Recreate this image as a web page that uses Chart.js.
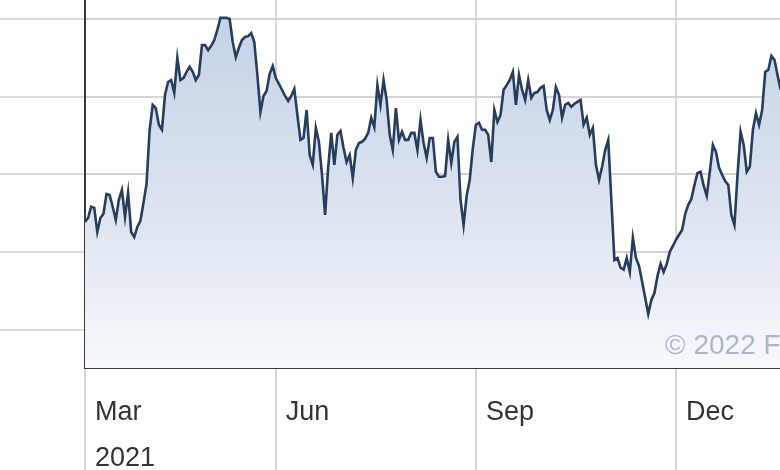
<!DOCTYPE html>
<html>
<head>
<meta charset="utf-8">
<script src="https://cdn.jsdelivr.net/npm/chart.js@4/dist/chart.umd.min.js"></script>
<style>
  html, body { margin: 0; padding: 0; background: #fff; }
  .chart-box { width: 780px; height: 470px; position: relative; }
</style>
</head>
<body>
<div class="chart-box"><canvas id="priceChart"></canvas></div>
<script>
/* ================= DATA ================= */
// one close per trading day, index 0 = 1 Mar 2021
const closes = [
  187.8, 188.8, 191.7, 191.4, 185.2, 188.8, 189.9, 195.0, 194.7, 191.7,
  188.3, 193.5, 196.0, 189.1, 195.3, 185.2, 183.9, 186.5, 188.1, 192.7,
  197.6, 211.5, 217.9, 217.1, 212.8, 211.5, 220.5, 223.8, 224.3, 221.0,
  230.0, 224.3, 224.8, 226.4, 227.7, 226.4, 224.3, 225.6, 233.3, 233.3,
  232.0, 233.1, 234.6, 237.2, 240.3, 240.3, 240.3, 240.0, 234.1, 230.2,
  232.6, 234.6, 235.4, 235.6, 236.4, 234.1, 225.6, 216.1, 220.2, 221.5,
  225.9, 227.9, 224.8, 223.3, 221.8, 220.2, 218.9, 220.2, 222.0, 215.3,
  208.9, 209.4, 216.6, 205.0, 202.5, 212.0, 208.4, 199.9, 189.6, 201.7,
  210.7, 202.5, 210.2, 211.2, 206.8, 203.2, 205.0, 199.1, 206.3, 208.1,
  208.4, 209.2, 210.7, 214.6, 212.2, 223.0, 217.9, 224.3, 219.2, 210.2,
  206.3, 217.1, 208.9, 211.0, 208.9, 208.9, 210.7, 210.7, 206.3, 214.0,
  208.1, 204.3, 209.4, 209.4, 200.7, 199.4, 199.4, 199.6, 208.9, 203.0,
  208.4, 209.7, 193.5, 187.0, 194.5, 198.6, 206.8, 212.8, 213.3, 211.5,
  211.5, 210.2, 203.2, 216.6, 213.5, 215.3, 221.8, 223.0, 224.3, 226.4,
  217.9, 225.6, 221.8, 219.2, 224.3, 219.7, 221.0, 221.2, 222.3, 222.8,
  216.6, 214.0, 216.6, 222.5, 220.5, 214.6, 217.9, 218.4, 217.4, 218.2,
  218.7, 219.2, 212.8, 214.6, 210.2, 212.0, 202.5, 198.6, 202.0, 206.3,
  208.9, 193.5, 178.0, 178.5, 176.0, 175.5, 178.5, 174.9, 183.7, 178.5,
  176.5, 172.4, 168.3, 164.1, 167.7, 169.5, 173.9, 177.0, 174.9, 177.0,
  180.1, 181.6, 183.2, 184.5, 185.7, 189.9, 192.2, 193.7, 197.3, 200.4,
  200.7, 197.1, 194.5, 200.7, 207.6, 205.8, 201.7, 199.9, 198.3, 197.3,
  189.6, 187.0, 199.9, 211.0, 207.6, 200.7, 202.0, 211.5, 215.8, 212.8,
  216.6, 226.4, 226.9, 230.5, 229.5, 225.6, 221.8
];

// month ticks (trading-day index where each month starts)
const monthTickIndex = [0, 62, 127, 192];
const monthTickLabels = [["Mar", "2021"], "Jun", "Sep", "Dec"];

const priceGridValues = [160, 180, 200, 220, 240];

const copyrightText = "\u00A9 2022 F";

/* ================= HELPERS ================= */
const points = closes.map((v, i) => ({ x: i, y: v }));

const fillGradient = (context) => {
    const { chart } = context;
    const area = chart.chartArea;
    if (!area) return "#dfe6f1";
    const g = chart.ctx.createLinearGradient(0, area.top, 0, area.bottom);
    g.addColorStop(0, "#c3d1e6");
    g.addColorStop(0.6, "#dee5f0");
    g.addColorStop(1, "#f7f9fc");
    return g;
};

const copyrightPlugin = {
    id: "copyright",
    afterDatasetsDraw(chart) {
        const { ctx, chartArea } = chart;
        ctx.save();
        ctx.font = "28px 'Liberation Sans', Arial, sans-serif";
        ctx.fillStyle = "#a9b7c9";
        ctx.textBaseline = "alphabetic";
        ctx.fillText(copyrightText, chartArea.right - 115, chartArea.bottom - 14);
        ctx.restore();
    }
};

/* ================= CHART ================= */
new Chart(document.getElementById("priceChart"), {
    type: "line",
    data: {
        datasets: [{
            data: points,
            borderColor: "#263d5e",
            borderWidth: 2.6,
            pointRadius: 0,
            tension: 0,
            fill: "start",
            backgroundColor: fillGradient
        }]
    },
    options: {
        responsive: true,
        maintainAspectRatio: false,
        animation: false,
        layout: { padding: 0 },
        plugins: {
            legend: { display: false },
            tooltip: { enabled: false }
        },
        scales: {
            x: {
                type: "linear",
                min: 0,
                max: 225.8,
                afterBuildTicks: (axis) => {
                    axis.ticks = monthTickIndex.map(v => ({ value: v }));
                },
                afterFit: (axis) => { axis.height = 102; },
                grid: {
                    color: "#d6d6d6",
                    lineWidth: 2,
                    tickColor: "#d6d6d6",
                    tickLength: 102
                },
                border: { color: "#3a3a3a", width: 2 },
                ticks: {
                    autoSkip: false,
                    maxRotation: 0,
                    align: "start",
                    labelOffset: 10,
                    padding: -80,
                    color: "#333",
                    font: { family: "'Liberation Sans', Arial, sans-serif", size: 27, lineHeight: 1.7 },
                    callback: (value) => {
                        const k = monthTickIndex.indexOf(value);
                        return k >= 0 ? monthTickLabels[k] : "";
                    }
                }
            },
            y: {
                min: 150.2,
                max: 244.9,
                afterBuildTicks: (axis) => {
                    axis.ticks = priceGridValues.map(v => ({ value: v }));
                },
                afterFit: (axis) => { axis.width = 85; },
                grid: {
                    color: "#d4d4d4",
                    lineWidth: 2,
                    tickColor: "#dcdcdc",
                    tickLength: 85
                },
                border: { color: "#3a3a3a", width: 2 },
                ticks: { display: false }
            }
        }
    },
    plugins: [copyrightPlugin]
});
</script>
</body>
</html>
